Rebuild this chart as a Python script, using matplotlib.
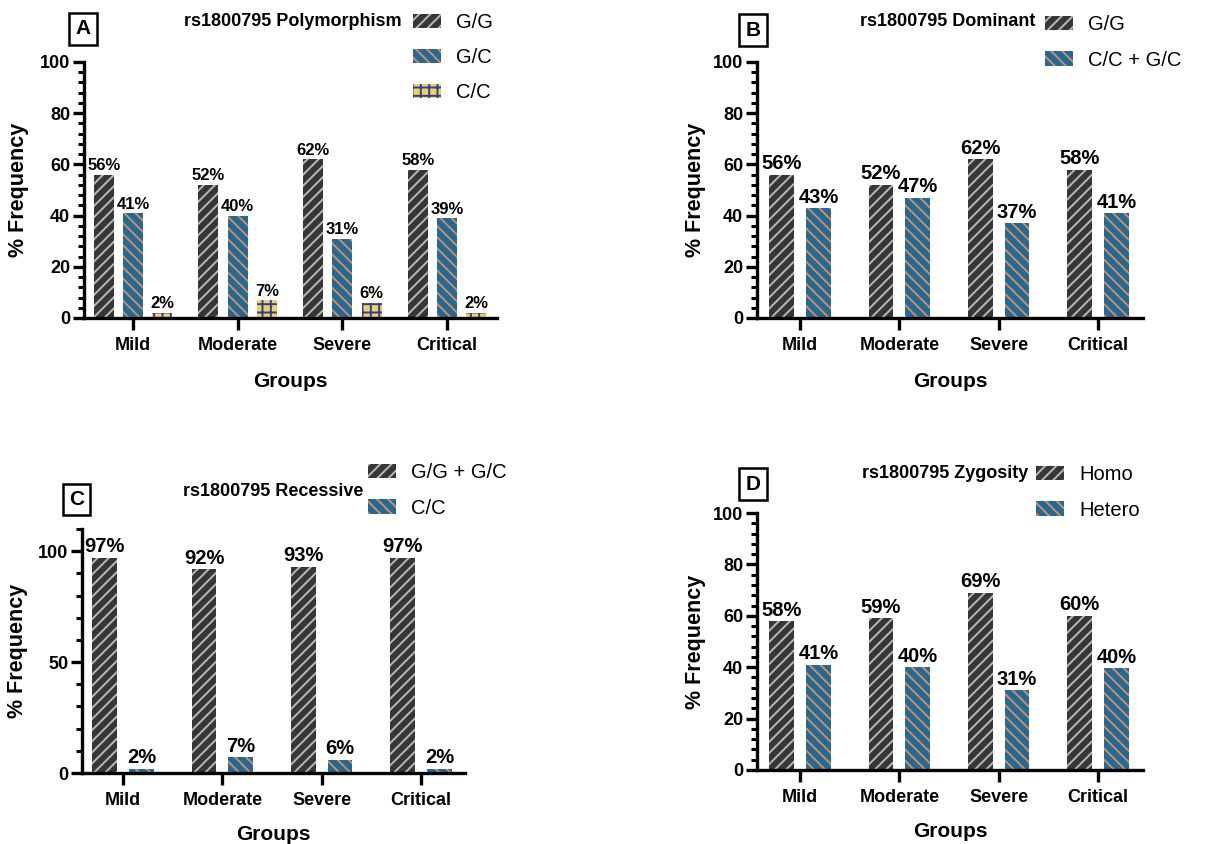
import matplotlib
matplotlib.use('Agg')
import matplotlib.pyplot as plt
from matplotlib.ticker import MultipleLocator
import numpy as np

plt.rcParams['font.family'] = ['Liberation Sans', 'DejaVu Sans']
plt.rcParams['hatch.linewidth'] = 1.4

categories = ['Mild', 'Moderate', 'Severe', 'Critical']

# Panel A: rs1800795 Polymorphism
poly_gg = [56, 52, 62, 58]
poly_gc = [41, 40, 31, 39]
poly_cc = [2, 7, 6, 2]
# Panel B: rs1800795 Dominant
dom_gg = [56, 52, 62, 58]
dom_ccgc = [43, 47, 37, 41]
# Panel C: rs1800795 Recessive
rec_gggc = [97, 92, 93, 97]
rec_cc = [2, 7, 6, 2]
# Panel D: rs1800795 Zygosity
zyg_homo = [58, 59, 69, 60]
zyg_hetero = [41, 40, 31, 39.5]

W, H = 1218, 844
fig = plt.figure(figsize=(W / 100, H / 100), dpi=100)

STY = {
    'gg': dict(facecolor='#363636', edgecolor='#b8b8b8', hatch='///'),
    'gc': dict(facecolor='#1d6a9b', edgecolor='#dc8a52', hatch='\\\\\\'),
    'cc': dict(facecolor='#f9d14e', edgecolor='#2340b4', hatch='++'),
}


def px_axes(l, r, t, b):
    return fig.add_axes([l / W, 1 - b / H, (r - l) / W, (b - t) / H])


def panel(ax, series, names, styles, offsets, width, xlim, ylim, major, minor,
          label_fs, title, title_xy, letter, letter_xy, leg_xy, ylab_x, xlab_y):
    x = np.arange(len(categories))
    for vals, name, st, off in zip(series, names, styles, offsets):
        bars = ax.bar(x + off, vals, width, label=name, linewidth=0, **STY[st])
        for b, v in zip(bars, vals):
            ax.annotate(f"{v:.0f}%", (b.get_x() + b.get_width() / 2, b.get_height()),
                        xytext=(0, 1), textcoords='offset points', ha='center',
                        va='bottom', fontsize=label_fs, fontweight='bold')
    ax.set_xlim(*xlim)
    ax.set_ylim(*ylim)
    ax.set_xticks(x)
    ax.set_xticklabels(categories, fontsize=13, fontweight='bold')
    ax.yaxis.set_major_locator(MultipleLocator(major))
    ax.yaxis.set_minor_locator(MultipleLocator(minor))
    for lab in ax.get_yticklabels():
        lab.set_fontweight('bold')
        lab.set_fontsize(13)
    for s in ['top', 'right']:
        ax.spines[s].set_visible(False)
    for s in ['left', 'bottom']:
        ax.spines[s].set_linewidth(2.4)
    ax.tick_params(axis='y', which='major', length=8, width=2.4, pad=2)
    ax.tick_params(axis='y', which='minor', length=4, width=2.2)
    ax.tick_params(axis='x', which='major', length=8.5, width=2.4, pad=5)
    ax.set_ylabel('% Frequency', fontsize=15.5, fontweight='bold')
    ax.yaxis.set_label_coords(ylab_x, 0.5)
    ax.set_xlabel('Groups', fontsize=15, fontweight='bold')
    ax.xaxis.set_label_coords(0.5, xlab_y)
    fig.text(title_xy[0] / W, 1 - title_xy[1] / H, title, ha='right', va='center',
             fontsize=13, fontweight='bold')
    fig.text(letter_xy[0] / W, 1 - letter_xy[1] / H, letter, ha='center', va='center',
             fontsize=15, fontweight='bold',
             bbox=dict(boxstyle='square,pad=0.3', fc='white', ec='black', lw=1.8))
    ax.legend(loc='center left', bbox_to_anchor=(leg_xy[0] / W, 1 - leg_xy[1] / H),
              bbox_transform=fig.transFigure, frameon=False, fontsize=14.5,
              handlelength=1.4, handleheight=0.7, handletextpad=0.75,
              labelspacing=0.8, borderpad=0, borderaxespad=0)


# Panel A
axA = px_axes(84, 497, 62, 318)
panel(axA, [poly_gg, poly_gc, poly_cc], ['G/G', 'G/C', 'C/C'], ['gg', 'gc', 'cc'],
      [-0.28, 0.0, 0.28], 0.19, (-0.468, 3.478), (0, 100), 20, 4, 12,
      'rs1800795 Polymorphism', (402, 22), 'A', (83, 29), (413, 57.5), -0.133, -0.21)

# Panel B
axB = px_axes(757, 1143, 62, 318)
panel(axB, [dom_gg, dom_ccgc], ['G/G', 'C/C + G/C'], ['gg', 'gc'],
      [-0.185, 0.185], 0.25, (-0.433, 3.453), (0, 100), 20, 4, 14.5,
      'rs1800795 Dominant', (1035, 22), 'B', (753, 30), (1045, 42.5), -0.132, -0.21)

# Panel C
axC = px_axes(82, 465, 529, 773)
panel(axC, [rec_gggc, rec_cc], ['G/G + G/C', 'C/C'], ['gg', 'gc'],
      [-0.185, 0.185], 0.25, (-0.413, 3.443), (0, 110), 50, 10, 14.5,
      'rs1800795 Recessive', (363, 492), 'C', (76.5, 499.5), (368, 490.5), -0.141, -0.213)
axC.set_yticks([0, 50, 100])

# Panel D
axD = px_axes(757, 1143, 513, 770)
panel(axD, [zyg_homo, zyg_hetero], ['Homo', 'Hetero'], ['gg', 'gc'],
      [-0.185, 0.185], 0.25, (-0.433, 3.453), (0, 100), 20, 4, 14.5,
      'rs1800795 Zygosity', (1028, 474), 'D', (753, 484), (1036, 492.5), -0.132, -0.202)

fig.savefig('out.png', dpi=100)
